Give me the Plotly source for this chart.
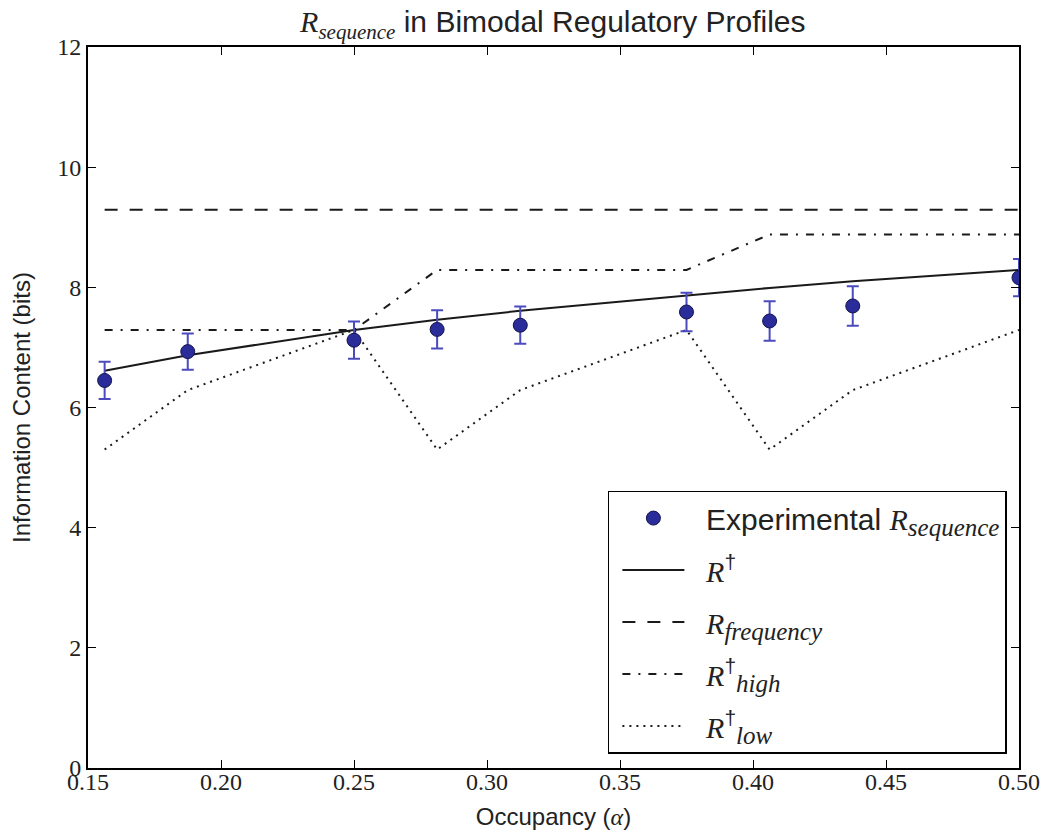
import plotly.graph_objects as go

# ---- data ----
alpha = [0.15625, 0.1875, 0.25, 0.28125, 0.3125, 0.375, 0.40625, 0.4375, 0.5]
r_sequence = [6.45, 6.93, 7.12, 7.30, 7.37, 7.59, 7.44, 7.69, 8.16]
r_sequence_err = [0.31, 0.30, 0.31, 0.32, 0.31, 0.32, 0.33, 0.33, 0.31]
r_dagger = [6.61, 6.87, 7.29, 7.46, 7.61, 7.87, 7.99, 8.10, 8.29]
r_frequency = [9.29, 9.29, 9.29, 9.29, 9.29, 9.29, 9.29, 9.29, 9.29]
r_high = [7.29, 7.29, 7.29, 8.29, 8.29, 8.29, 8.88, 8.88, 8.88]
r_low = [5.30, 6.29, 7.29, 5.30, 6.29, 7.29, 5.30, 6.29, 7.29]

x_ticks = [0.15, 0.20, 0.25, 0.30, 0.35, 0.40, 0.45, 0.50]
x_ticklabels = ["0.15", "0.20", "0.25", "0.30", "0.35", "0.40", "0.45", "0.50"]
y_ticks = [0, 2, 4, 6, 8, 10, 12]
y_ticklabels = ["0", "2", "4", "6", "8", "10", "12"]

SERIF = "Liberation Serif, serif"
SANS = "Liberation Sans, Arial, sans-serif"
PAD = "\u00a0\u00a0"


def m(s):
    return f'<span style="font-family:Liberation Serif"><i>{s}</i></span>'


def msub(s, size):
    return f'<span style="font-family:Liberation Serif;font-size:{size}px"><i>{s}</i></span>'


fig = go.Figure()

fig.add_trace(go.Scatter(
    x=alpha, y=r_dagger, mode="lines", name=PAD + m("R") + "<sup>†</sup>",
    line=dict(color="#1a1a1a", width=2), legendrank=2, legendgroup="b"))
fig.add_trace(go.Scatter(
    x=alpha, y=r_frequency, mode="lines",
    name=PAD + m("R") + "<sub>" + msub("frequency", 25) + "</sub>",
    line=dict(color="#1a1a1a", width=2, dash="13px,12px"), legendrank=3, legendgroup="c"))
fig.add_trace(go.Scatter(
    x=alpha, y=r_high, mode="lines",
    name=PAD + m("R") + "<sup>†</sup><sub>" + msub("high", 25) + "</sub>",
    line=dict(color="#1a1a1a", width=2, dash="8px,8px,2px,8px"), legendrank=4, legendgroup="d"))
fig.add_trace(go.Scatter(
    x=alpha, y=r_low, mode="lines",
    name=PAD + m("R") + "<sup>†</sup><sub>" + msub("low", 25) + "</sub>",
    line=dict(color="#1a1a1a", width=2, dash="2px,5px"), legendrank=5, legendgroup="e"))
fig.add_trace(go.Scatter(
    x=alpha, y=r_sequence, mode="markers",
    name=PAD + "Experimental " + m("R") + "<sub>" + msub("sequence", 25) + "</sub>",
    marker=dict(size=14, color="#2a2c9a", line=dict(color="#14144d", width=1)),
    error_y=dict(type="data", array=r_sequence_err, color="#4b4bbd", thickness=2, width=6),
    legendrank=1, legendgroup="a"))

axis_common = dict(
    showgrid=False, zeroline=False, showline=True, linecolor="black", linewidth=2,
    mirror="allticks", ticks="inside", ticklen=8, tickwidth=1, tickcolor="black",
    tickfont=dict(family=SERIF, size=24, color="#222"), automargin=False,
)

fig.update_xaxes(
    range=[0.15, 0.50], tickvals=x_ticks, ticktext=x_ticklabels,
    title=dict(text="Occupancy (" + m("α") + ")", font=dict(family=SANS, size=24, color="#222"), standoff=14),
    ticklabelstandoff=-9, **axis_common)
fig.update_yaxes(
    range=[0, 12], tickvals=y_ticks, ticktext=y_ticklabels,
    title=dict(text="Information Content (bits)", font=dict(family=SANS, size=24, color="#222"), standoff=20),
    ticklabelstandoff=0, **axis_common)

fig.update_layout(
    template="none",
    width=1045, height=836,
    margin=dict(l=88, r=26, t=47, b=68, autoexpand=False),
    paper_bgcolor="white", plot_bgcolor="white",
    font=dict(family=SANS, color="#222"),
    title=dict(text=m("R") + "<sub>" + m("sequence") + "</sub> in Bimodal Regulatory Profiles",
               x=0.529, xanchor="center", y=0.974, yanchor="middle",
               font=dict(family=SANS, size=30, color="#222")),
    legend=dict(x=0.987, y=0.02, xanchor="right", yanchor="bottom",
                bgcolor="white", bordercolor="black", borderwidth=1.5,
                font=dict(family=SANS, size=30, color="#222"),
                tracegroupgap=10, itemwidth=62, indentation=8),
    showlegend=True,
)

fig.write_html("out.html")
